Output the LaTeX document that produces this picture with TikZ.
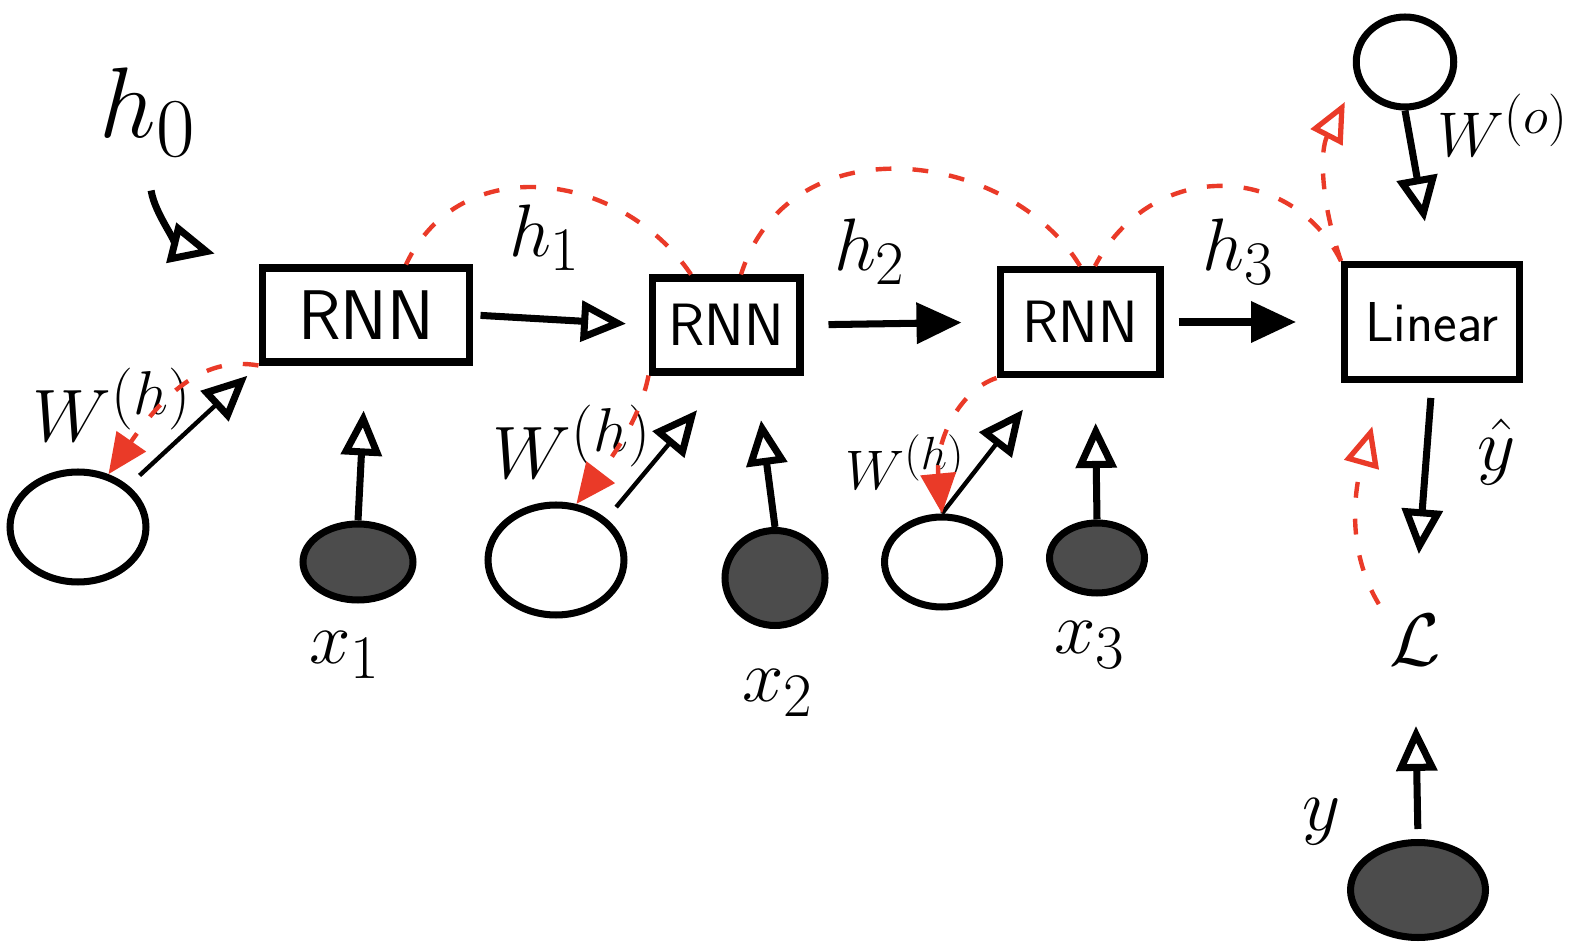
\documentclass[tikz,border=0pt]{standalone}
\usepackage{amsmath}
\usetikzlibrary{arrows.meta,shapes.geometric,calc}
\definecolor{gred}{HTML}{EA3A28}
\begin{document}
\begin{tikzpicture}[x=0.02cm,y=-0.02cm,
  box/.style={draw,line width=4pt,rectangle,inner sep=0pt,font=\sffamily\fontsize{34}{40}\selectfont},
  param/.style={draw,line width=4pt,ellipse,inner sep=0pt},
  inp/.style={param,fill=black!70},
  lab/.style={font=\Huge,scale=1.7},
  arr/.style={line width=4pt,-{Triangle[open,length=0.9cm,width=0.8cm]}},
  farr/.style={line width=4pt,-{Triangle[length=0.9cm,width=0.8cm]}},
  thinarr/.style={line width=2.5pt,-{Triangle[open,length=0.9cm,width=0.8cm,line width=4pt]}},
  grad/.style={gred,line width=2.5pt,dash pattern=on 9pt off 12pt},
  gradarr/.style={grad,-{Triangle[length=0.8cm,width=0.7cm]}},
  gradopen/.style={grad,-{Triangle[open,length=0.8cm,width=0.7cm,line width=3pt]}},
]
\useasboundingbox (0,0) rectangle (1583,952);

% boxes
\node[box,minimum width=4.16cm,minimum height=1.88cm,font=\sffamily\fontsize{40}{46}\selectfont] (rnn1) at (366,315) {RNN};
\node[box,minimum width=2.96cm,minimum height=1.88cm] (rnn2) at (726,325) {RNN};
\node[box,minimum width=3.2cm,minimum height=2.1cm] (rnn3) at (1080,322) {RNN};
\node[box,minimum width=3.5cm,minimum height=2.3cm,font=\sffamily\fontsize{32}{38}\selectfont] (lin) at (1432,322) {Linear};

% circles
\node[param,minimum width=2.72cm,minimum height=2.2cm] (wh1) at (78,527) {};
\node[inp,minimum width=2.2cm,minimum height=1.52cm] (x1) at (358,562) {};
\node[param,minimum width=2.72cm,minimum height=2.2cm] (wh2) at (556,560) {};
\node[inp,minimum width=2cm,minimum height=1.9cm] (x2) at (775,578) {};
\node[param,minimum width=2.3cm,minimum height=1.8cm] (wh3) at (942,562) {};
\node[inp,minimum width=1.9cm,minimum height=1.4cm] (x3) at (1097,558) {};
\node[param,minimum width=1.95cm,minimum height=1.8cm] (wo) at (1405,62) {};
\node[inp,minimum width=2.7cm,minimum height=1.9cm] (yc) at (1418,890) {};

% labels
\node[lab,scale=1.35] (h0) at (148,112) {$h_0$};
\node[lab] (h1) at (545,238) {$h_1$};
\node[lab] (h2) at (870,252) {$h_2$};
\node[lab] (h3) at (1238,252) {$h_3$};
\node[lab] (lw1) at (112,405) {$W^{(h)}$};
\node[lab] (lw2) at (572,442) {$W^{(h)}$};
\node[lab,scale=0.75] (lw3) at (905,462) {$W^{(h)}$};
\node[lab] (lx1) at (345,655) {$x_1$};
\node[lab] (lx2) at (778,693) {$x_2$};
\node[lab] (lx3) at (1090,645) {$x_3$};
\node[lab,scale=0.85] (lwo) at (1503,125) {$W^{(o)}$};
\node[lab] (lyh) at (1497,452) {$\hat{y}$};
\node[lab] (L) at (1415,640) {$\mathcal{L}$};
\node[lab] (ly) at (1322,822) {$y$};

% black connectors
\draw[arr,shorten <=0.4cm,shorten >=0.9cm] (h0.south) .. controls (155,215) and (180,245) .. (rnn1.north west);
\draw[arr,shorten <=4pt,shorten >=0.45cm] (rnn1.east) -- (rnn2.west);
\draw[farr,shorten <=0.5cm,shorten >=0.7cm] (rnn2.east) -- (rnn3.west);
\draw[farr,shorten <=0.3cm,shorten >=0.9cm] (rnn3.east) -- (lin.west);
\draw[arr,shorten >=0.8cm] (wo.south) -- (lin.north);
\draw[arr,shorten <=0.3cm,shorten >=1.0cm] (lin.south) -- (L.north);
\draw[arr,shorten <=0.2cm,shorten >=1.0cm] (yc.north) -- (L.south);
\draw[thinarr,shorten <=0.3cm,shorten >=0.3cm] (wh1.north east) -- (rnn1.south west);
\draw[arr,shorten >=0.9cm] (x1.north) -- (rnn1.south);
\draw[thinarr,shorten <=0.3cm,shorten >=0.9cm] (wh2.north east) -- (rnn2.south);
\draw[arr,shorten >=0.9cm] (x2.north) -- (rnn2.-60);
\draw[thinarr,shorten >=0.8cm] (wh3.north) -- (rnn3.-120);
\draw[arr,shorten >=0.9cm] (x3.north) -- (rnn3.-75);

% red gradient paths
\draw[gradopen,shorten >=0.9cm] (L.north west) .. controls (1340,540) and (1360,470) .. ([xshift=-0.95cm]lin.south);
\draw[gradopen,shorten >=0.5cm] (lin.north west) .. controls (1320,200) and (1320,150) .. (wo.200);
\draw[grad] (lin.north west) .. controls (1290,160) and (1150,160) .. ([xshift=0.3cm]rnn3.north);
\draw[grad] (rnn3.north) .. controls (1010,150) and (790,120) .. ([xshift=0.3cm]rnn2.north);
\draw[grad] ([xshift=-0.7cm]rnn2.north) .. controls (620,170) and (460,150) .. ([xshift=0.8cm]rnn1.north);
\draw[gradarr] (rnn1.south west) .. controls (200,355) and (160,400) .. (wh1.60);
\draw[gradarr] (rnn2.south west) .. controls (640,420) and (610,460) .. (wh2.70);
\draw[gradarr] (rnn3.south west) .. controls (960,390) and (935,440) .. (wh3.north);
\end{tikzpicture}
\end{document}
